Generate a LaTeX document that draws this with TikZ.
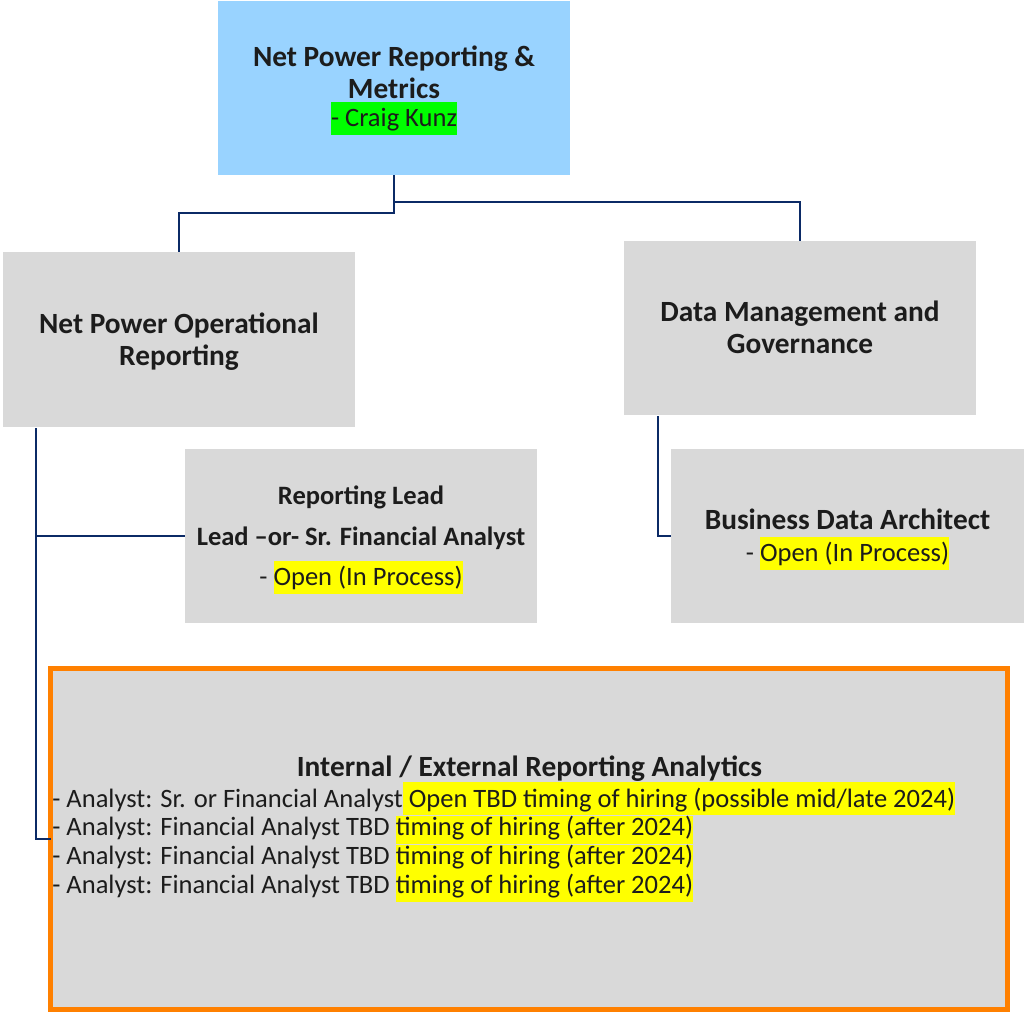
\documentclass[tikz,border=0pt]{standalone}
\usepackage{fontspec}
\setmainfont{Carlito}
\usepackage{xcolor}
\usetikzlibrary{positioning}

\definecolor{boxgray}{HTML}{D9D9D9}
\definecolor{headblue}{HTML}{99D3FF}
\definecolor{linknavy}{HTML}{0B2A66}
\definecolor{frameorange}{HTML}{FF8000}
\definecolor{hlyellow}{HTML}{FFFF00}
\definecolor{hlgreen}{HTML}{00FF00}
\definecolor{inkdark}{HTML}{1C1C1C}

\newcommand{\titlefont}{\fontsize{16.7}{18.1}\selectfont\bfseries}
\newcommand{\bodyfont}{\fontsize{15.1}{16.3}\selectfont\mdseries}
\newcommand{\hlstrut}{\rule[-4.5pt]{0pt}{18.7pt}}
\newcommand{\hly}[1]{{\setlength{\fboxsep}{0pt}\colorbox{hlyellow}{\hlstrut#1}}}
\newcommand{\hlg}[1]{{\setlength{\fboxsep}{0pt}\colorbox{hlgreen}{\hlstrut#1}}}
\newcommand{\hlrow}[1]{{\setlength{\fboxsep}{0pt}\colorbox{hlyellow}{\strut#1}}}

\tikzset{
  box/.style={rectangle, fill=boxgray, inner sep=0pt, outer sep=0pt, text=inkdark,
    minimum width=7.04cm, minimum height=3.5cm, align=center, text depth=0pt},
  row/.style={font=\bodyfont, anchor=base west, inner sep=0pt, text=inkdark},
  link/.style={draw=linknavy, line width=1.1pt},
}

\begin{document}
\begin{tikzpicture}[x=0.02cm, y=-0.02cm]
\useasboundingbox (0,0) rectangle (1025,1014);

% Kopf
\node[box, fill=headblue, font=\titlefont, text height=44.2pt] (head) at (394,88)
  {Net Power Reporting \&\\ Metrics\\[-1.7pt] {\bodyfont\hlg{- Craig Kunz}}};

% zweite Ebene
\node[box, font=\titlefont, text height=29.4pt] (opRep) at (179,339.5)
  {Net Power Operational\\ Reporting};
\node[box, font=\titlefont, text height=28.9pt] (dataGov) at (800,328)
  {Data Management and\\ Governance};

% dritte Ebene
\node[box, font=\fontsize{15.1}{23.2}\selectfont, text height=56.7pt] (lead) at (361,536)
  {\textbf{Reporting Lead}\\ \textbf{Lead –or- Sr. Financial Analyst}\\ - \hly{Open (In Process)}};
\node[box, minimum width=7.06cm, font=\fontsize{16.7}{18.7}\selectfont, text height=29.5pt] (arch) at (847.5,536)
  {\textbf{Business Data Architect}\\ {\bodyfont - \hly{Open (In Process)}}};

% Analytics-Block
\node[box, draw=frameorange, line width=2.8pt, minimum width=19.14cm,
  minimum height=6.82cm] (bot) at (529,839) {};
\node[font=\titlefont, anchor=base, inner sep=0pt, text=inkdark] (botTitle) at (529.5,776)
  {Internal / External Reporting Analytics};
\node[row] (ana1) at (52,807)
  {- Analyst: Sr. or Financial Analyst\hly{~Open TBD timing of hiring (possible mid/late 2024)}};
\foreach \i in {2,3,4}
  \node[row] (ana\i) at (52,{807+28.8*(\i-1)})
    {- Analyst: Financial Analyst TBD \hlrow{timing of hiring (after 2024)}};

% Verbindungen
\coordinate (lBranch) at (179,213);
\coordinate (rBranch) at (394,202);
\coordinate (opFoot) at (36,428);
\coordinate (dgFoot) at (658,416);
\draw[link] (head.south) |- (lBranch) -- (opRep.north);
\draw[link] (rBranch) -| (dataGov.north);
\draw[link] (opFoot) |- (lead.west);
\draw[link] (opFoot) |- (bot.west);
\draw[link] (dgFoot) |- (arch.west);
\end{tikzpicture}
\end{document}
